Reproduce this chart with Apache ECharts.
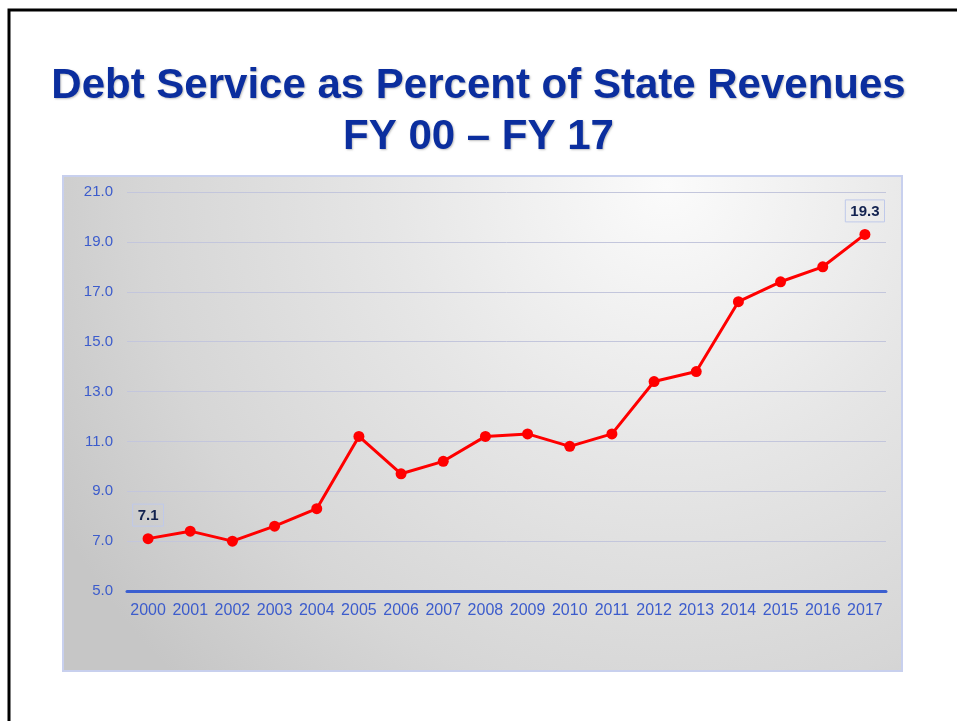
<!DOCTYPE html>
<html>
<head>
<meta charset="utf-8">
<script src="https://cdn.jsdelivr.net/npm/echarts@6/dist/echarts.min.js"></script>
<style>
  html, body { margin: 0; padding: 0; background: #fff; }
  #main { width: 957px; height: 721px; }
</style>
</head>
<body>
<div id="main"></div>
<script>
// data
var years = ['2000', '2001', '2002', '2003', '2004', '2005', '2006', '2007', '2008',
  '2009', '2010', '2011', '2012', '2013', '2014', '2015', '2016', '2017']
var debtPct = [7.1, 7.4, 7.0, 7.6, 8.3, 11.2, 9.7, 10.2, 11.2,
  11.3, 10.8, 11.3, 13.4, 13.8, 16.6, 17.4, 18.0, 19.3]
var labelledYears = ['2000', '2017']

var chart = echarts.init(document.getElementById('main'), null, { renderer: 'canvas' })

chart.setOption({
  animation: false,
  backgroundColor: '#ffffff',
  title: {
    text: 'Debt Service as Percent of State Revenues\nFY 00 \u2013 FY 17',
    left: 'center',
    top: 56,
    textStyle: {
      fontFamily: 'Liberation Sans, Arial, sans-serif',
      fontSize: 42,
      fontWeight: 'bold',
      color: '#0b2e9e',
      lineHeight: 51,
      textShadowColor: 'rgba(0,0,0,0.25)',
      textShadowBlur: 2,
      textShadowOffsetX: 1,
      textShadowOffsetY: 1
    }
  },
  graphic: [
    {
      // slide frame
      type: 'rect',
      z: -10,
      shape: { x: 9, y: 10, width: 960, height: 730 },
      style: { fill: 'none', stroke: '#000', lineWidth: 3 }
    },
    {
      // chart panel with grey gradient
      type: 'rect',
      z: -5,
      shape: { x: 63, y: 176, width: 839, height: 495 },
      style: {
        fill: {
          type: 'radial', x: 0.72, y: 0.02, r: 1.4,
          colorStops: [
            { offset: 0, color: '#fbfbfb' },
            { offset: 0.4, color: '#e6e6e6' },
            { offset: 0.75, color: '#d6d6d6' },
            { offset: 1, color: '#c6c6c6' }
          ]
        },
        stroke: '#c8d0ee',
        lineWidth: 2
      }
    }
  ],
  grid: {
    left: 127,
    right: 71,
    top: 192,
    bottom: 130,
    containLabel: false
  },
  xAxis: {
    type: 'category',
    data: years,
    boundaryGap: true,
    axisLine: { show: true, lineStyle: { color: '#3b5fd0', width: 3 } },
    axisTick: { show: false },
    axisLabel: {
      color: '#3c5ccc',
      fontSize: 16,
      fontFamily: 'Liberation Sans, Arial, sans-serif',
      margin: 12,
      interval: 0
    }
  },
  yAxis: {
    type: 'value',
    min: 5,
    max: 21,
    interval: 2,
    axisLine: { show: false },
    axisTick: { show: false },
    splitLine: { lineStyle: { color: '#c3c6dc', width: 1 } },
    axisLabel: {
      color: '#3c5ccc',
      fontSize: 15,
      fontFamily: 'Liberation Sans, Arial, sans-serif',
      margin: 14,
      formatter: function (v) { return v.toFixed(1) }
    }
  },
  series: [
    {
      type: 'line',
      data: debtPct.map(function (v, i) {
        var item = { value: v }
        if (labelledYears.indexOf(years[i]) >= 0) {
          item.label = {
            show: true,
            position: 'top',
            distance: 7,
            formatter: function (p) { return p.value.toFixed(1) },
            color: '#12224f',
            fontWeight: 'bold',
            fontSize: 15,
            fontFamily: 'Liberation Sans, Arial, sans-serif',
            borderColor: '#bfc9ea',
            borderWidth: 1,
            padding: [4, 5, 3, 5]
          }
        }
        return item
      }),
      symbol: 'circle',
      symbolSize: 11,
      lineStyle: { color: '#ff0000', width: 3 },
      itemStyle: { color: '#ff0000' }
    }
  ]
})
</script>
</body>
</html>
